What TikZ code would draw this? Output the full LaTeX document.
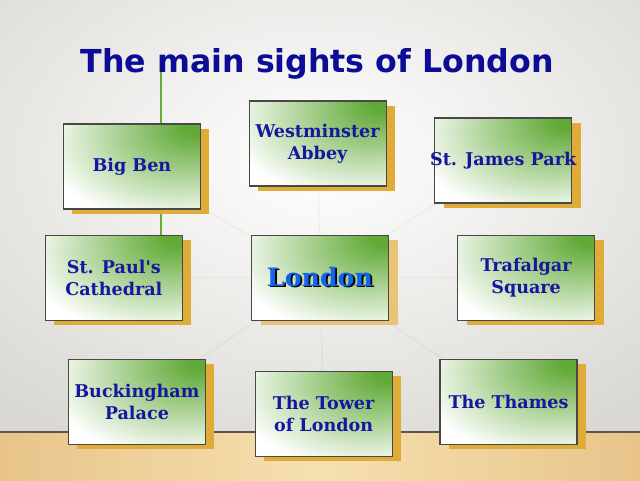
\documentclass[tikz,border=0pt]{standalone}
\usepackage{fontspec}
\setmainfont{DejaVu Serif}
\newfontfamily\headfont{DejaVu Sans}
\usetikzlibrary{positioning, shadows}

\definecolor{titleblue}{RGB}{12,12,150}
\definecolor{labelblue}{RGB}{22,22,160}
\definecolor{cityblue}{RGB}{20,100,240}
\definecolor{leafgreen}{RGB}{98,170,56}
\definecolor{stemgreen}{RGB}{104,172,52}
\definecolor{gold}{RGB}{224,172,56}
\definecolor{palegold}{RGB}{234,196,118}
\definecolor{frame}{RGB}{72,72,72}
\definecolor{wall}{RGB}{218,216,211}
\definecolor{woodlight}{RGB}{246,224,176}
\definecolor{wooddark}{RGB}{232,196,138}
\definecolor{skirting}{RGB}{95,85,75}

\pgfdeclareradialshading{sightshade}{\pgfpoint{25bp}{25bp}}{color(0bp)=(leafgreen); color(5bp)=(leafgreen); color(46bp)=(white); color(100bp)=(white)}

\pgfdeclarelayer{background}
\pgfsetlayers{background,main}

\newcommand\embossed[1]{\rlap{\kern1.3pt\raisebox{-1.3pt}{\color{black}#1}}#1}

\tikzset{
  sight base/.style={draw=frame, line width=0.8pt, shading=sightshade,
    minimum width=3.425cm, minimum height=2.125cm, align=center},
  sight/.style={sight base, text=labelblue,
    font=\bfseries\fontsize{12.5}{15.5}\selectfont,
    drop shadow={shadow xshift=0.225cm, shadow yshift=-0.125cm, fill=gold, opacity=1}},
  hub/.style={sight base, text=cityblue,
    font=\bfseries\fontsize{18}{22}\selectfont,
    drop shadow={shadow xshift=0.225cm, shadow yshift=-0.125cm, fill=palegold, opacity=1}},
  spokeline/.style={draw=black, draw opacity=0.035, line width=1pt},
  stemline/.style={draw=stemgreen, line width=1.4pt}
}

\begin{document}
\begin{tikzpicture}
	\useasboundingbox (0,0) rectangle (16,12);

	% wall and floor
	\begin{pgfonlayer}{background}
		\begin{scope}
			\clip (0,0) rectangle (16,12);
			\shade[inner color=white, outer color=wall] (-4,0) rectangle (20,16);
		\end{scope}
		\shade[left color=wooddark, right color=wooddark, middle color=woodlight] (0,0) rectangle (16,1.2);
		\draw[skirting, line width=0.8pt] (0,1.2) -- (16,1.2);
	\end{pgfonlayer}

	\node[hub] (london) at (8,5.06) {\embossed{London}};

	\node[sight, left = 1.7cm of london] (stpaul) {St. Paul\textquotesingle s\\Cathedral};
	\node[sight, right = 1.7cm of london] (trafalgar) {Trafalgar\\Square};
	\node[sight, above = 1.2cm of london, xshift=-0.06cm] (westminster) {Westminster\\Abbey};
	\node[sight, below = 1.25cm of london, xshift=0.09cm] (tower) {The Tower\\of London};

	\node[sight, above = 0.625cm of stpaul, xshift=0.45cm] (bigben) {Big Ben};
	\node[sight, below = 0.95cm of stpaul, xshift=0.575cm] (buckingham) {Buckingham\\Palace};
	\node[sight, above = 0.775cm of trafalgar, xshift=-0.575cm] (stjames) {\makebox[2.9cm][c]{St. James Park}};
	\node[sight, below = 0.95cm of trafalgar, xshift=-0.44cm] (thames) {The Thames};

	\coordinate (stem) at (4.025,10.625);

	\begin{pgfonlayer}{background}
		\draw[stemline] (stem) -- (stem |- stpaul.north);
		\foreach \n in {westminster,bigben,stjames,stpaul,trafalgar,buckingham,tower,thames}
			\draw[spokeline] (london) -- (\n);
	\end{pgfonlayer}

	\node[font=\headfont\bfseries\fontsize{22.5}{27}\selectfont, text=titleblue] (title) at (7.93,10.4) {The main sights of London};
\end{tikzpicture}
\end{document}
